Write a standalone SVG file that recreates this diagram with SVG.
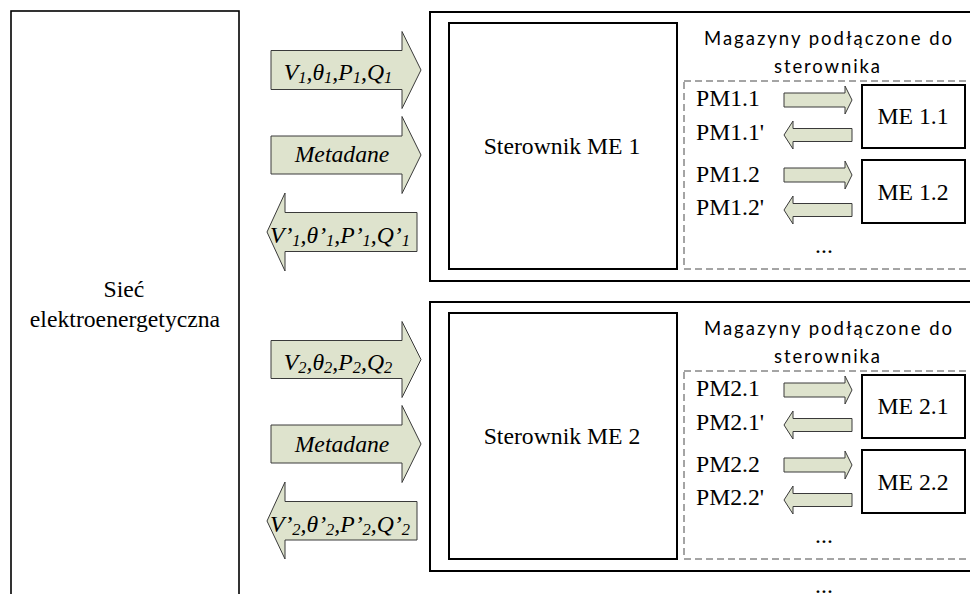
<svg xmlns="http://www.w3.org/2000/svg" width="970" height="594" viewBox="0 0 970 594">
  <style>
    .box { fill: #ffffff; stroke: #000000; stroke-width: 2; }
    .thin { fill: #ffffff; stroke: #000000; stroke-width: 1.6; }
    .dash { fill: none; stroke: #4a4a4a; stroke-width: 1; stroke-dasharray: 7 4; }
    .arrow { fill: #dee3cd; stroke: #3a3a3a; stroke-width: 1; }
    .serif { font-family: "Liberation Serif", "Times New Roman", serif; font-size: 23.7px; fill: #000000; }
    .it { font-family: "Liberation Serif", "Times New Roman", serif; font-style: italic; font-size: 23.7px; fill: #000000; }
    .sb { font-size: 16.5px; }
    .sans { font-family: Lato, "Open Sans", sans-serif; font-size: 18.5px; fill: #000000; }
    .mid { text-anchor: middle; }
  </style>
  <rect width="970" height="594" fill="#ffffff"/>

  <!-- Power grid -->
  <g id="siec">
    <rect class="thin" x="11" y="11" width="228" height="600"/>
    <text class="serif mid" x="124" y="297">Sieć</text>
    <text class="serif mid" x="125" y="327">elektroenergetyczna</text>
  </g>

  <!-- Controller module 1 -->
  <g id="modul1">
    <rect class="box" x="430" y="12" width="560" height="269"/>
  </g>
  <g id="sterownik1">
    <rect class="box" x="449" y="23" width="228" height="246"/>
    <text class="serif mid" x="562" y="154">Sterownik ME 1</text>
  </g>
  <g id="magazyny1">
    <text class="sans mid" x="828" y="45" textLength="248" lengthAdjust="spacing">Magazyny podłączone do</text>
    <text class="sans mid" x="827" y="73" textLength="106" lengthAdjust="spacing">sterownika</text>
    <rect class="dash" x="684" y="81" width="300" height="188"/>
    <text class="serif" x="696" y="106">PM1.1</text>
    <text class="serif" x="696" y="140">PM1.1'</text>
    <text class="serif" x="696" y="182">PM1.2</text>
    <text class="serif" x="696" y="215">PM1.2'</text>
    <text class="serif mid" x="824" y="253">...</text>
  </g>
  <g id="me11">
    <rect class="box" x="862" y="85" width="103" height="63"/>
    <text class="serif mid" x="913" y="124">ME 1.1</text>
  </g>
  <g id="me12">
    <rect class="box" x="862" y="160" width="103" height="63"/>
    <text class="serif mid" x="913" y="200">ME 1.2</text>
  </g>

  <!-- Controller module 2 -->
  <g id="modul2">
    <rect class="box" x="430" y="302" width="560" height="269"/>
  </g>
  <g id="sterownik2">
    <rect class="box" x="449" y="313" width="228" height="246"/>
    <text class="serif mid" x="562" y="444">Sterownik ME 2</text>
  </g>
  <g id="magazyny2">
    <text class="sans mid" x="828" y="335" textLength="248" lengthAdjust="spacing">Magazyny podłączone do</text>
    <text class="sans mid" x="827" y="363" textLength="106" lengthAdjust="spacing">sterownika</text>
    <rect class="dash" x="684" y="371" width="300" height="188"/>
    <text class="serif" x="696" y="396">PM2.1</text>
    <text class="serif" x="696" y="430">PM2.1'</text>
    <text class="serif" x="696" y="472">PM2.2</text>
    <text class="serif" x="696" y="505">PM2.2'</text>
    <text class="serif mid" x="824" y="543">...</text>
  </g>
  <g id="me21">
    <rect class="box" x="862" y="375" width="103" height="63"/>
    <text class="serif mid" x="913" y="414">ME 2.1</text>
  </g>
  <g id="me22">
    <rect class="box" x="862" y="450" width="103" height="63"/>
    <text class="serif mid" x="913" y="490">ME 2.2</text>
  </g>

  <!-- further modules continue below the frame -->
  <text class="serif mid" x="824" y="593">...</text>

  <!-- Block arrows -->
  <g id="connectors">
    <!-- grid <-> controller 1 -->
    <path class="arrow" d="M271,50.5 H402 V31.5 L421,70 L402,108.5 V89.5 H271 Z"/>
    <text class="it mid" x="338" y="80">V<tspan class="sb" dy="3">1</tspan><tspan dy="-3">,θ</tspan><tspan class="sb" dy="3">1</tspan><tspan dy="-3">,P</tspan><tspan class="sb" dy="3">1</tspan><tspan dy="-3">,Q</tspan><tspan class="sb" dy="3">1</tspan></text>
    <path class="arrow" d="M271,136 H402 V116.5 L421,155 L402,193.5 V174 H271 Z"/>
    <text class="it mid" x="342" y="162">Metadane</text>
    <path class="arrow" d="M417,212.5 H285 V193 L267,232 L285,271 V251.5 H417 Z"/>
    <text class="it mid" x="340" y="243">V’<tspan class="sb" dy="3">1</tspan><tspan dy="-3">,θ’</tspan><tspan class="sb" dy="3">1</tspan><tspan dy="-3">,P’</tspan><tspan class="sb" dy="3">1</tspan><tspan dy="-3">,Q’</tspan><tspan class="sb" dy="3">1</tspan></text>

    <!-- grid <-> controller 2 -->
    <path class="arrow" d="M271,340.5 H402 V321.5 L421,359.5 L402,397.5 V378.5 H271 Z"/>
    <text class="it mid" x="338" y="370">V<tspan class="sb" dy="3">2</tspan><tspan dy="-3">,θ</tspan><tspan class="sb" dy="3">2</tspan><tspan dy="-3">,P</tspan><tspan class="sb" dy="3">2</tspan><tspan dy="-3">,Q</tspan><tspan class="sb" dy="3">2</tspan></text>
    <path class="arrow" d="M271,425 H402 V405.5 L421,444 L402,482.5 V463 H271 Z"/>
    <text class="it mid" x="342" y="452">Metadane</text>
    <path class="arrow" d="M417,501.5 H285 V482 L267,521 L285,559 V540 H417 Z"/>
    <text class="it mid" x="340" y="532">V’<tspan class="sb" dy="3">2</tspan><tspan dy="-3">,θ’</tspan><tspan class="sb" dy="3">2</tspan><tspan dy="-3">,P’</tspan><tspan class="sb" dy="3">2</tspan><tspan dy="-3">,Q’</tspan><tspan class="sb" dy="3">2</tspan></text>

    <!-- controller 1 <-> storage units -->
    <path class="arrow" d="M784,93 H845 V86 L852,100 L845,114 V107 H784 Z"/>
    <path class="arrow" d="M852,128.5 H793 V121 L784,135 L793,149 V141.5 H852 Z"/>
    <path class="arrow" d="M784,168 H845 V161 L852,175 L845,189 V182 H784 Z"/>
    <path class="arrow" d="M852,203.5 H793 V196 L784,210 L793,224 V216.5 H852 Z"/>

    <!-- controller 2 <-> storage units -->
    <path class="arrow" d="M784,383 H845 V376 L852,390 L845,404 V397 H784 Z"/>
    <path class="arrow" d="M852,418.5 H793 V411 L784,425 L793,439 V431.5 H852 Z"/>
    <path class="arrow" d="M784,458 H845 V451 L852,465 L845,479 V472 H784 Z"/>
    <path class="arrow" d="M852,493.5 H793 V486 L784,500 L793,514 V506.5 H852 Z"/>
  </g>
</svg>
